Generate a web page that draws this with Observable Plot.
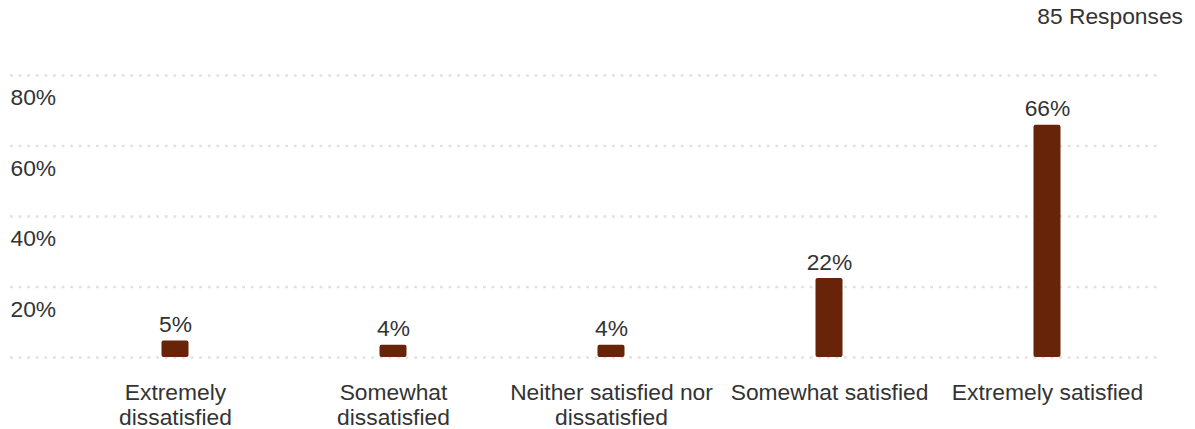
<!DOCTYPE html>
<html>
<head>
<meta charset="utf-8">
<script src="https://cdn.jsdelivr.net/npm/d3@7"></script>
<script src="https://cdn.jsdelivr.net/npm/@observablehq/plot@0.6"></script>
<style>
  html, body { margin: 0; padding: 0; background: #fff; }
  #wrap { position: relative; width: 1195px; height: 429px; font-family: "Liberation Sans", Arial, sans-serif; }
  #resp { position: absolute; top: 3px; right: 12px; font-size: 22.8px; line-height: 26px; color: #333; }
</style>
</head>
<body>
<div id="wrap">
  <div id="resp">85 Responses</div>
  <div id="chart"></div>
</div>
<script>
const categories = ["Extremely\ndissatisfied", "Somewhat\ndissatisfied", "Neither satisfied nor\ndissatisfied", "Somewhat satisfied", "Extremely satisfied"];
const values = [4.7, 3.5, 3.5, 22.4, 65.9];
const valueLabels = ["5%", "4%", "4%", "22%", "66%"];
const yTicks = [0, 20, 40, 60, 80];
const yTickLabels = ["", "20%", "40%", "60%", "80%"];

const data = categories.map((c, i) => ({cat: c, value: values[i], label: valueLabels[i]}));
const ticks = yTicks.map((t, i) => ({t, label: yTickLabels[i]}));

const FS = 22.8;
const chart = Plot.plot({
  width: 1195,
  height: 429,
  marginTop: 75,
  marginBottom: 72,
  marginLeft: 10,
  marginRight: 37,
  style: {fontFamily: "Liberation Sans, Arial, sans-serif", fontSize: FS + "px", color: "#333", background: "transparent"},
  x: {domain: categories, range: [65, 1157], padding: 0, axis: null},
  y: {domain: [0, 80], axis: null},
  marks: [
    Plot.ruleY(ticks, {y: "t", stroke: "#e2e2e2", strokeWidth: 2.6, strokeDasharray: "2.8,5.8"}),
    Plot.text(ticks, {y: "t", text: "label", frameAnchor: "left", textAnchor: "start", lineAnchor: "bottom", dy: 29.5, fill: "#333", fontSize: FS}),
    Plot.barY(data, {x: "cat", y: "value", fill: "#672408", insetLeft: 95.5, insetRight: 95.5, rx: 2}),
    Plot.text(data, {x: "cat", y: "value", text: "label", lineAnchor: "bottom", dy: -9, fill: "#333", fontSize: FS}),
    Plot.text(data, {x: "cat", text: "cat", frameAnchor: "bottom", lineAnchor: "top", dy: 24.7, lineHeight: 1.09, fill: "#333", fontSize: FS})
  ]
});
document.getElementById("chart").appendChild(chart);
</script>
</body>
</html>
